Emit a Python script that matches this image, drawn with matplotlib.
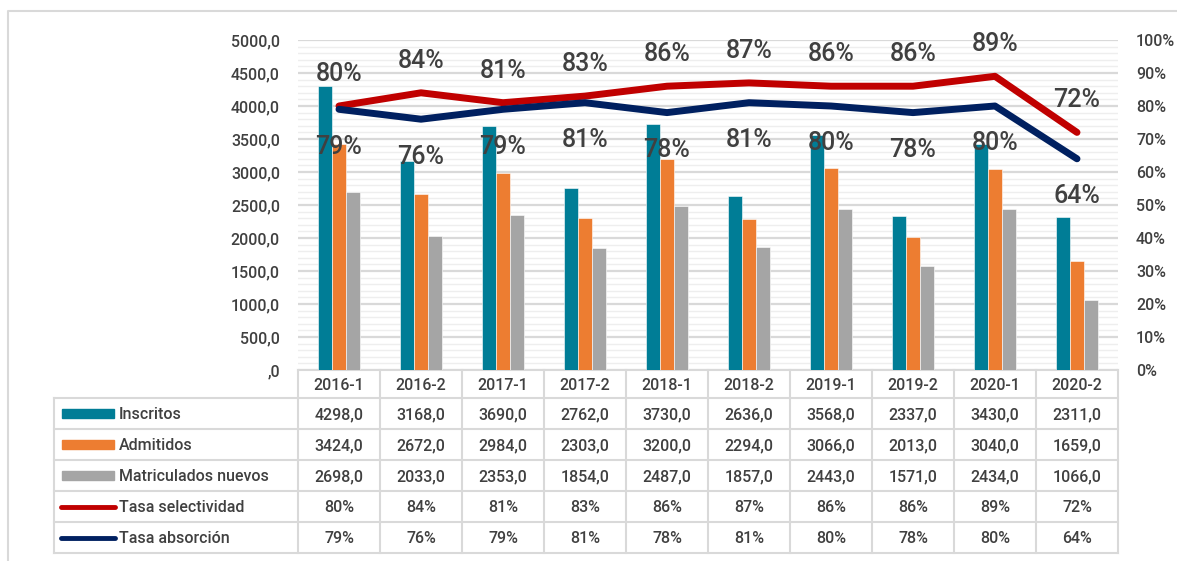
import numpy as np
import matplotlib
matplotlib.use('Agg')
from matplotlib import pyplot as plt
from matplotlib.ticker import FuncFormatter, MultipleLocator

plt.rcParams['font.family'] = ['Roboto', 'DejaVu Sans']
plt.rcParams['font.weight'] = 'medium'

periodos = ['2016-1', '2016-2', '2017-1', '2017-2', '2018-1', '2018-2', '2019-1', '2019-2', '2020-1', '2020-2']
inscritos = [4298, 3168, 3690, 2762, 3730, 2636, 3568, 2337, 3430, 2311]
admitidos = [3424, 2672, 2984, 2303, 3200, 2294, 3066, 2013, 3040, 1659]
matriculados = [2698, 2033, 2353, 1854, 2487, 1857, 2443, 1571, 2434, 1066]
tasa_sel = [80, 84, 81, 83, 86, 87, 86, 86, 89, 72]
tasa_abs = [79, 76, 79, 81, 78, 81, 80, 78, 80, 64]

TXT = '#404040'
GRID = '#D9D9D9'
c_ins, c_adm, c_mat = '#007D96', '#ED7D31', '#A5A5A5'
c_sel, c_abs = '#C00000', '#002060'

W, H = 1177, 561
L, R, TOP, BOT = 298, 1118, 40, 370   # plot area in pixels
fig = plt.figure(figsize=(W / 100, H / 100), dpi=100)

# pixel-coordinate layer for table and frame
pa = fig.add_axes([0, 0, 1, 1], zorder=0)
pa.set_xlim(0, W)
pa.set_ylim(H, 0)
pa.axis('off')

ax = fig.add_axes([L / W, (H - BOT) / H, (R - L) / W, (BOT - TOP) / H], zorder=1)
ax.patch.set_alpha(0)
n = len(periodos)
x = np.arange(n)
bw = 0.172
ax.bar(x - bw, inscritos, bw, color=c_ins, edgecolor='white', linewidth=0.4, zorder=3)
ax.bar(x, admitidos, bw, color=c_adm, edgecolor='white', linewidth=0.4, zorder=3)
ax.bar(x + bw, matriculados, bw, color=c_mat, edgecolor='white', linewidth=0.4, zorder=3)
ax.set_xlim(-0.5, n - 0.5)
ax.set_ylim(0, 5000)
ax.yaxis.set_major_locator(MultipleLocator(500))
ax.yaxis.set_minor_locator(MultipleLocator(100))
ax.yaxis.set_major_formatter(FuncFormatter(lambda v, p: ',0' if v == 0 else ('%.1f' % v).replace('.', ',')))
ax.grid(axis='y', which='major', color=GRID, lw=1.6, zorder=0)
ax.grid(axis='y', which='minor', color='#EEEEEE', lw=1.0, zorder=0)
ax.set_xticks([])
ax.tick_params(axis='y', which='both', length=0, pad=13, labelsize=11.5, labelcolor=TXT)
for s in ax.spines.values():
    s.set_visible(False)

ax2 = ax.twinx()
ax2.set_zorder(2)
ax2.set_ylim(0, 100)
ax2.yaxis.set_major_locator(MultipleLocator(10))
ax2.yaxis.set_major_formatter(FuncFormatter(lambda v, p: '%d%%' % v))
ax2.tick_params(axis='y', length=0, pad=13, labelsize=11.5, labelcolor=TXT)
for s in ax2.spines.values():
    s.set_visible(False)
ax2.plot(x, tasa_sel, color=c_sel, lw=5, solid_capstyle='round', solid_joinstyle='round', zorder=4)
ax2.plot(x, tasa_abs, color=c_abs, lw=5, solid_capstyle='round', solid_joinstyle='round', zorder=4)
for i in range(n):
    ax2.annotate('%d%%' % tasa_sel[i], (x[i], tasa_sel[i]), xytext=(0, 23), textcoords='offset points',
                 ha='center', va='center', fontsize=18, color=TXT, zorder=5)
    ax2.annotate('%d%%' % tasa_abs[i], (x[i], tasa_abs[i]), xytext=(0, -27), textcoords='offset points',
                 ha='center', va='center', fontsize=18, color=TXT, zorder=5)

# frame of the chart area
pa.plot([8, 8, W], [H, 11, 11], color='#D9D9D9', lw=1.5)

# data table
TL = 54
rh = 31
hdr_bot = 398
cw = (R - L) / n
row_names = ['Inscritos', 'Admitidos', 'Matriculados nuevos', 'Tasa selectividad', 'Tasa absorción']
fmt_num = lambda v: ('%.1f' % v).replace('.', ',')
rows = [[fmt_num(v) for v in inscritos],
        [fmt_num(v) for v in admitidos],
        [fmt_num(v) for v in matriculados],
        ['%d%%' % v for v in tasa_sel],
        ['%d%%' % v for v in tasa_abs]]
keys = [('bar', c_ins), ('bar', c_adm), ('bar', c_mat), ('line', c_sel), ('line', c_abs)]
tb = hdr_bot + rh * len(rows)

pa.plot([L, R], [BOT, BOT], color=GRID, lw=1.5)
for k in range(len(rows) + 1):
    y = hdr_bot + k * rh
    pa.plot([TL, R], [y, y], color=GRID, lw=1.5)
pa.plot([TL, TL], [hdr_bot, tb], color=GRID, lw=1.5)
for j in range(n + 1):
    xx = L + j * cw
    pa.plot([xx, xx], [BOT, tb], color=GRID, lw=1.5)
for j in range(n):
    cx = L + (j + 0.5) * cw
    pa.text(cx, (BOT + hdr_bot) / 2 + 1, periodos[j], ha='center', va='center', fontsize=11.5, color=TXT)
    for k, row in enumerate(rows):
        pa.text(cx, hdr_bot + (k + 0.5) * rh + 1, row[j], ha='center', va='center', fontsize=11.5, color=TXT)
for k, name in enumerate(row_names):
    cy = hdr_bot + (k + 0.5) * rh
    kind, col = keys[k]
    if kind == 'bar':
        pa.add_patch(plt.Rectangle((62, cy - 4.5), 52, 9, color=col))
    else:
        pa.plot([61, 115], [cy, cy], color=col, lw=3.5, solid_capstyle='round')
    pa.text(119, cy + 1, name, ha='left', va='center', fontsize=11.5, color=TXT)

fig.savefig('out.png', dpi=100)
